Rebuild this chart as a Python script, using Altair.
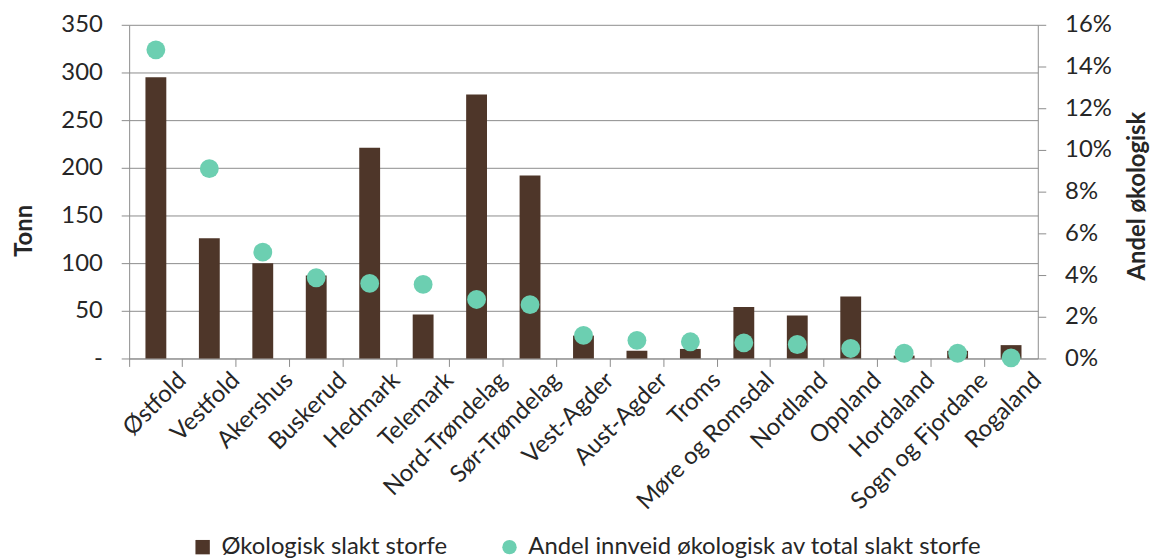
import altair as alt
import pandas as pd

regions = ["Østfold", "Vestfold", "Akershus", "Buskerud", "Hedmark", "Telemark",
           "Nord-Trøndelag", "Sør-Trøndelag", "Vest-Agder", "Aust-Agder", "Troms",
           "Møre og Romsdal", "Nordland", "Oppland", "Hordaland", "Sogn og Fjordane",
           "Rogaland"]
tonn = [295, 126, 100, 87, 221, 46, 277, 192, 24, 8, 10, 54, 45, 65, 3, 8, 14]
andel = [0.148, 0.091, 0.051, 0.0387, 0.036, 0.0355, 0.0283, 0.0258, 0.0111,
         0.0087, 0.008, 0.0075, 0.0067, 0.0048, 0.0025, 0.0025, 0.0003]
series = ["Økologisk slakt storfe", "Andel innveid økologisk av total slakt storfe"]
colors = ["#4E3629", "#6CCFB1"]
left_ticks = [0, 50, 100, 150, 200, 250, 300, 350]
right_ticks = [0, 0.02, 0.04, 0.06, 0.08, 0.10, 0.12, 0.14, 0.16]

df = pd.DataFrame({"region": regions, "tonn": tonn, "andel": andel})

FONT = "Lato"
FS = 24
TXT = "#262626"
GRAY = "#8c8c8c"
W, H = 915, 336
BAND = W / len(regions)

color_scale = alt.Scale(domain=series, range=colors)
shape_scale = alt.Scale(domain=series, range=["square", "circle"])
legend = alt.Legend(title=None, orient="none", direction="horizontal",
                    legendX=62, legendY=514, labelFontSize=FS, labelFont=FONT,
                    labelColor=TXT, labelLimit=0, symbolSize=210,
                    symbolStrokeWidth=0, symbolOpacity=1, columnPadding=50,
                    labelOffset=7)

x_enc = alt.X("region:N", sort=regions, title=None,
              scale=alt.Scale(paddingInner=0, paddingOuter=0),
              axis=alt.Axis(bandPosition=0, labelOffset=BAND / 2, labelAngle=-45,
                            labelAlign="right", labelBaseline="middle",
                            labelPadding=10, tickSize=8, labelLimit=0,
                            domainColor=GRAY, tickColor=GRAY, grid=False))

bars = alt.Chart(df).transform_calculate(
    serie="'" + series[0] + "'"
).mark_bar(size=21).encode(
    x=x_enc,
    y=alt.Y("tonn:Q", scale=alt.Scale(domain=[0, 350], nice=False),
            axis=alt.Axis(values=left_ticks, title="Tonn",
                          labelExpr="datum.value == 0 ? '-' : datum.label",
                          grid=True, gridColor=GRAY, domainColor=GRAY,
                          tickColor=GRAY, tickSize=8, labelPadding=19,
                          titleX=-105, titleY=207, titleAngle=270,
                          titleAlign="center", titleBaseline="middle")),
    color=alt.Color("serie:N", scale=color_scale, legend=legend),
    shape=alt.Shape("serie:N", scale=shape_scale, legend=legend),
)

points = alt.Chart(df).transform_calculate(
    serie="'" + series[1] + "'"
).mark_point(filled=True, opacity=1, size=360).encode(
    x=x_enc,
    y=alt.Y("andel:Q", scale=alt.Scale(domain=[0, 0.16], nice=False),
            axis=alt.Axis(values=right_ticks, format=".0%", orient="right",
                          title="Andel økologisk", grid=False,
                          domainColor=GRAY, tickColor=GRAY, tickSize=8,
                          labelPadding=19, titleX=100, titleY=172,
                          titleAngle=270, titleAlign="center",
                          titleBaseline="middle")),
    color=alt.Color("serie:N", scale=color_scale, legend=legend),
    shape=alt.Shape("serie:N", scale=shape_scale, legend=legend),
)

chart = alt.layer(bars, points).resolve_scale(y="independent").properties(
    width=W, height=H,
    autosize=alt.AutoSizeParams(type="none"),
    padding={"left": 122, "top": 15, "right": 115, "bottom": 199},
).configure(font=FONT).configure_view(stroke=None).configure_axis(
    labelFont=FONT, labelFontSize=FS, labelColor=TXT,
    titleFont=FONT, titleFontSize=24, titleFontWeight="bold", titleColor=TXT,
)

chart.save("out.html", embed_options={"renderer": "svg", "actions": False})
